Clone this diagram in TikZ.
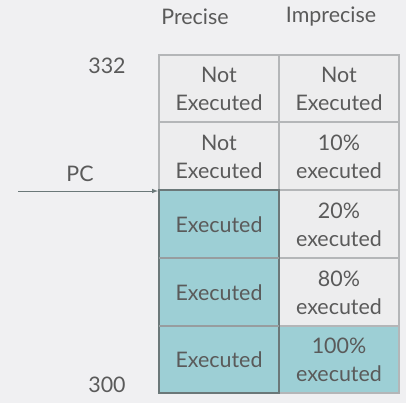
\documentclass[tikz,border=0pt]{standalone}
\usepackage{fontspec}
\setmainfont{Lato}
\definecolor{bg}{HTML}{F0F0F2}
\definecolor{teal}{HTML}{9DCFD5}
\definecolor{plain}{HTML}{EDEDEE}
\definecolor{txt}{HTML}{5A5A5A}
\definecolor{gridc}{HTML}{B4B6B8}
\definecolor{darkc}{HTML}{6B7879}
\tikzset{
  cellt/.style={font=\fontsize{21.5}{28}\selectfont, text=txt, align=center},
  lab/.style={font=\fontsize{21.5}{24}\selectfont, text=txt},
}
\begin{document}
\begin{tikzpicture}[x=1bp,y=-1bp]
\fill[bg] (0,0) rectangle (406,403);
\useasboundingbox (0,0) rectangle (406,403);
% plain cells
\fill[plain] (159,55) rectangle (399,393);
% teal cells
\fill[teal] (159,190) rectangle (279,393);
\fill[teal] (279,326) rectangle (399,393);
% grid
\draw[gridc, line width=1.2bp] (159,55) rectangle (399,393);
\draw[gridc, line width=1.2bp] (279,55) -- (279,393);
\foreach \y in {122,190,258,326} \draw[gridc, line width=1.2bp] (159,\y) -- (399,\y);
\draw[darkc, line width=1.2bp] (159,190) rectangle (279,393);
\draw[darkc!40!gridc, line width=1.2bp] (159,258) -- (279,258) (159,326) -- (279,326);
% texts
\node[lab] (hp) at (195,17) {Precise};
\node[lab] (hi) at (331,17) {Imprecise};
\node[lab] (n332) at (107,66) {332};
\node[lab] (n300) at (107,385) {300};
\node[lab] (pc) at (80,174) {PC};
\node[cellt] (c11) at (219,89) {Not\\Executed};
\node[cellt] (c12) at (339,89) {Not\\Executed};
\node[cellt] (c21) at (219,157) {Not\\Executed};
\node[cellt] (c22) at (339,157) {10\%\\executed};
\node[cellt] (c31) at (219,225) {Executed};
\node[cellt] (c32) at (339,225) {20\%\\executed};
\node[cellt] (c41) at (219,293) {Executed};
\node[cellt] (c42) at (339,293) {80\%\\executed};
\node[cellt] (c51) at (219,360) {Executed};
\node[cellt] (c52) at (339,360) {100\%\\executed};
\coordinate (as) at (18,191);
\coordinate (ae) at (158,191);
\draw[-latex, darkc, line width=1bp] (as) -- (ae);
\end{tikzpicture}
\end{document}
